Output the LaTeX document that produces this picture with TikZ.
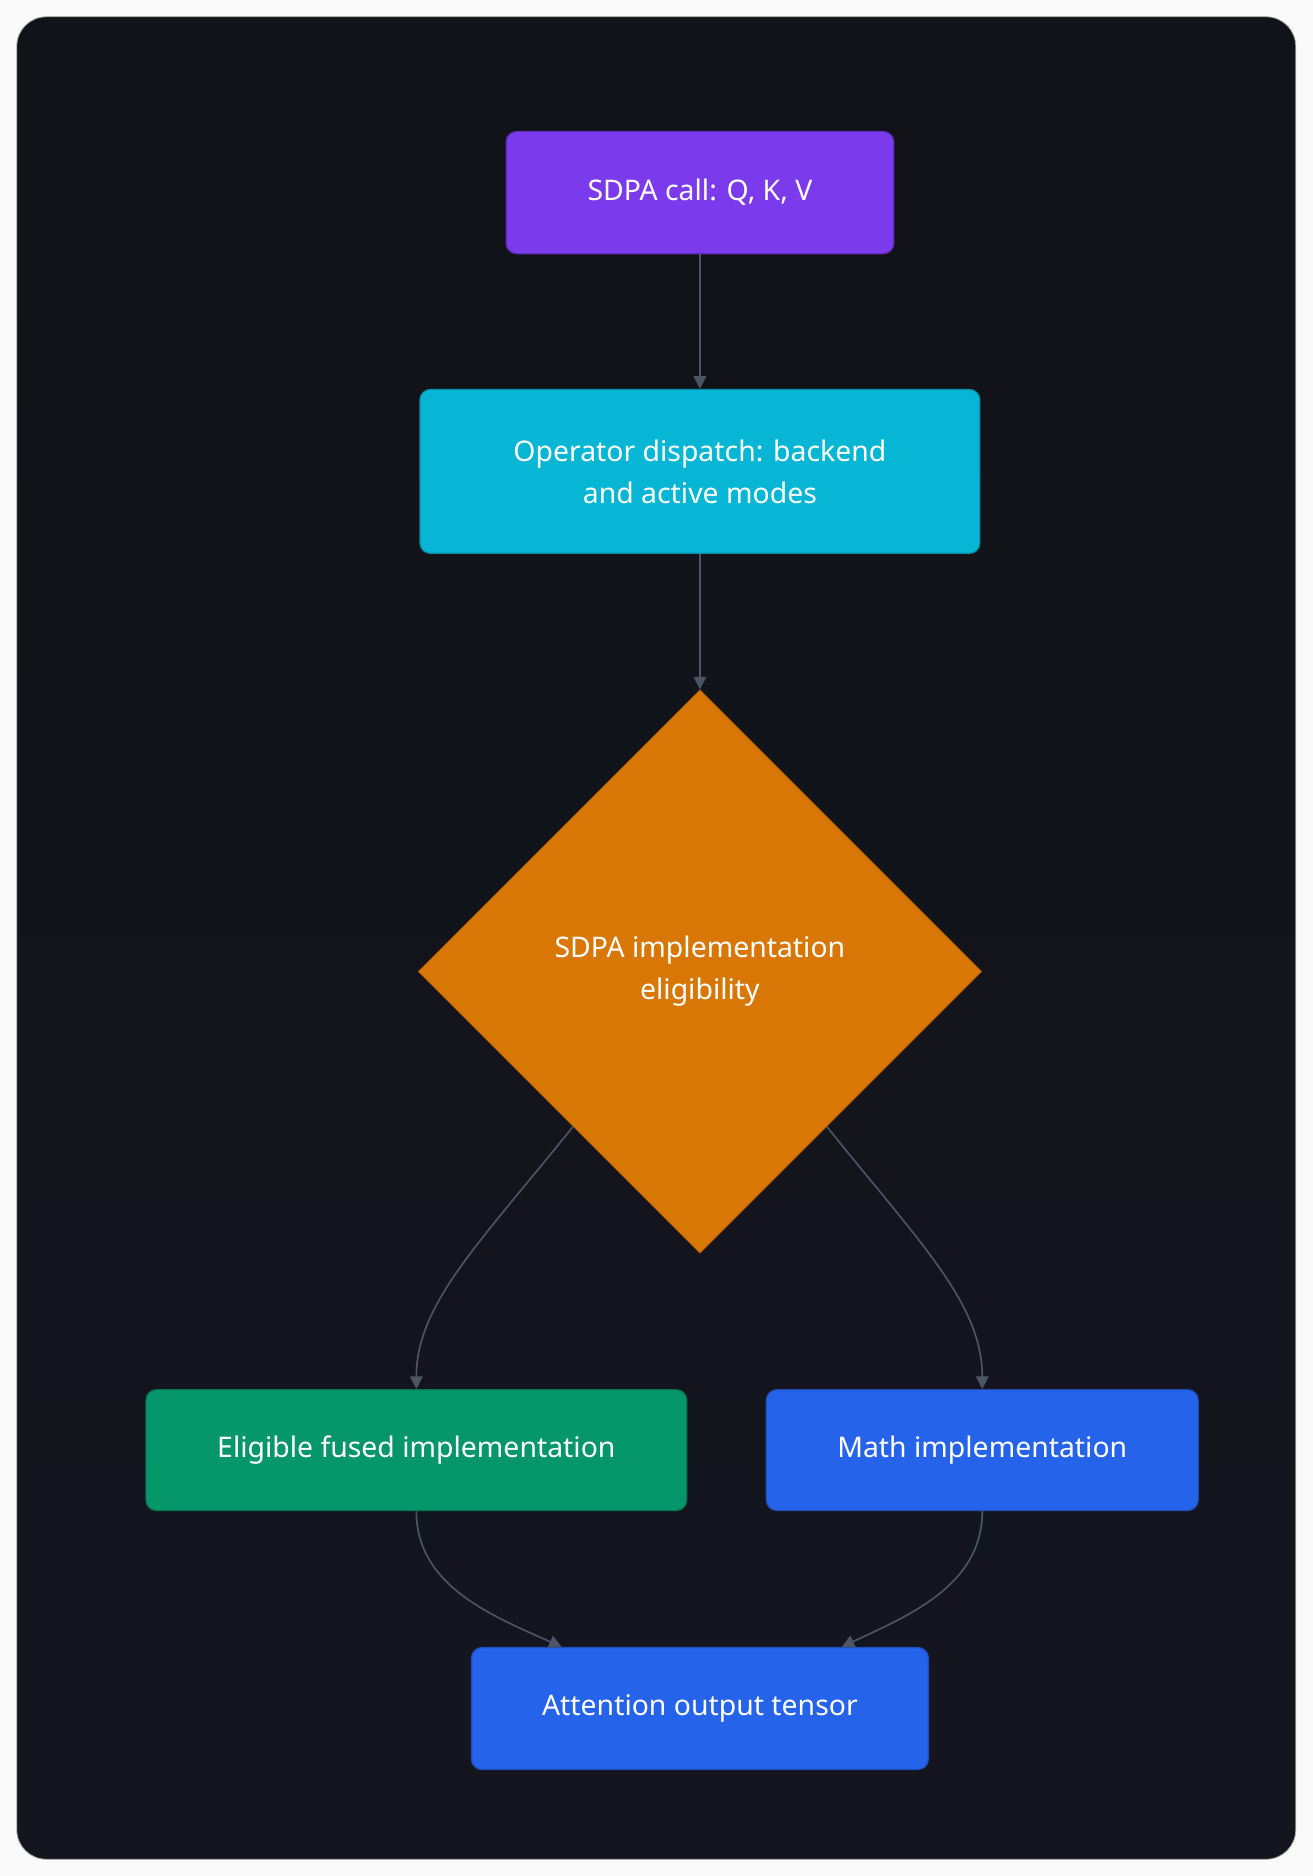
\documentclass[tikz,border=0pt]{standalone}
\usepackage{fontspec}
\setmainfont{Noto Sans}
\usetikzlibrary{positioning,shapes.geometric,calc,arrows.meta}

\definecolor{panel}{HTML}{111318}
\definecolor{panelB}{HTML}{14151F}
\definecolor{cpurple}{HTML}{7C3AED}
\definecolor{ccyan}{HTML}{06B6D4}
\definecolor{corange}{HTML}{D97706}
\definecolor{cgreen}{HTML}{059669}
\definecolor{cblue}{HTML}{2563EB}
\definecolor{cedge}{HTML}{4B5563}

\tikzset{
  box/.style={rectangle, rounded corners=5pt, draw=#1!80!black, fill=#1, text=white,
    font=\fontsize{13.5}{20}\selectfont, align=center, line width=0.6pt},
  link/.style={draw=cedge, line width=0.8pt, -{Triangle[length=6pt,width=6pt]}}
}

\begin{document}
\begin{tikzpicture}[x=0.02cm,y=-0.02cm]
  % page and panel
  \useasboundingbox (0,0) rectangle (1097,1568);
  \fill[white!96!gray] (0,0) rectangle (1097,1568);
  \shade[top color=panel, bottom color=panelB, rounded corners=14pt, draw=gray!60]
    (14,14) rectangle (1083,1554);

  % nodes
  \node[box=cpurple, minimum width=6.48cm, minimum height=2.04cm] (call) at (585,161) {SDPA call: Q, K, V};
  \node[box=ccyan, minimum width=9.36cm, minimum height=2.74cm] (disp) at (585,394)
    {Operator dispatch: backend\\and active modes};
  \node[diamond, draw=corange!80!black, fill=corange, text=white, font=\fontsize{13.5}{20}\selectfont,
    align=center, minimum width=9.42cm, minimum height=9.42cm, inner sep=0pt] (elig) at (585,812)
    {SDPA implementation\\eligibility};
  \node[box=cgreen, minimum width=9.04cm, minimum height=2.02cm] (fused) at (348,1212) {Eligible fused implementation};
  \node[box=cblue, minimum width=7.22cm, minimum height=2.02cm] (math) at (821,1212) {Math implementation};
  \node[box=cblue, minimum width=7.64cm, minimum height=2.04cm] (out) at (585,1428) {Attention output tensor};

  \coordinate (eL) at ($(elig.south)!0.45!(elig.west)$);
  \coordinate (eR) at ($(elig.south)!0.45!(elig.east)$);
  \coordinate (oL) at ($(out.north west)+(76,0)$);
  \coordinate (oR) at ($(out.north east)+(-73,0)$);

  % connectors
  \draw[link] (call) -- (disp);
  \draw[link] (disp) -- (elig.north);
  \draw[link] (eL) .. controls (400,1040) and (348,1090) .. (fused.north);
  \draw[link] (eR) .. controls (770,1040) and (821,1090) .. (math.north);
  \draw[link] (fused.south) .. controls (348,1325) and (410,1350) .. (oL);
  \draw[link] (math.south) .. controls (821,1325) and (760,1350) .. (oR);
\end{tikzpicture}
\end{document}
